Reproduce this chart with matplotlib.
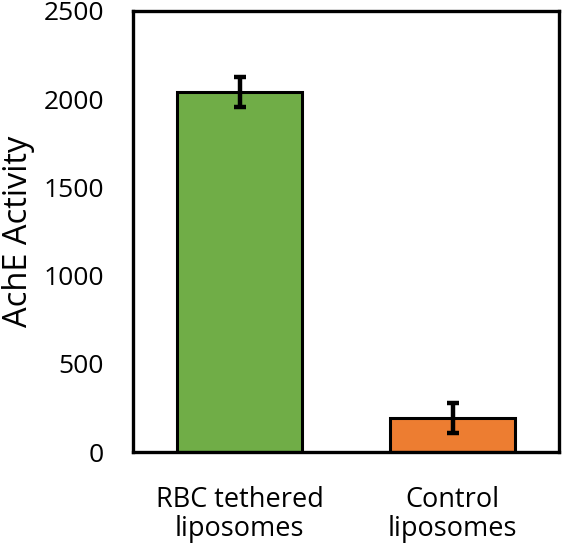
import matplotlib
matplotlib.use("Agg")
import matplotlib.pyplot as plt

categories = ["RBC tethered\nliposomes", "Control\nliposomes"]
values = [2040, 192]
errors = [87, 85]
colors = ["#70AD47", "#ED7D31"]
yticks = [0, 500, 1000, 1500, 2000, 2500]

plt.rcParams['font.family'] = ['Open Sans', 'DejaVu Sans']

fig = plt.figure(figsize=(5.62, 5.49), dpi=100)
ax = fig.add_axes([133/562, 1-452/549, (559-133)/562, (452-11)/549])

x = list(range(len(categories)))
ax.bar(x, values, width=0.59, color=colors, edgecolor="black", linewidth=2.2, zorder=2)
ax.errorbar(x, values, yerr=errors, fmt="none", ecolor="black", elinewidth=3.2,
            capsize=4, capthick=3.2, zorder=3)

ax.set_xlim(-0.5, 1.5)
ax.set_ylim(0, 2500)
ax.set_yticks(yticks)
ax.set_yticklabels([str(v) for v in yticks], fontsize=19)
ax.set_xticks(x)
ax.set_xticklabels(categories, fontsize=19.5, linespacing=1.05)
ax.tick_params(axis="both", length=0)
ax.tick_params(axis="y", pad=21)
ax.tick_params(axis="x", pad=24.5)
for s in ax.spines.values():
    s.set_linewidth(2.4)
    s.set_color("black")
ax.set_ylabel("AchE Activity", fontsize=23.5)
ax.yaxis.set_label_coords(-0.229, 0.5)

fig.savefig("out.png", dpi=100)
